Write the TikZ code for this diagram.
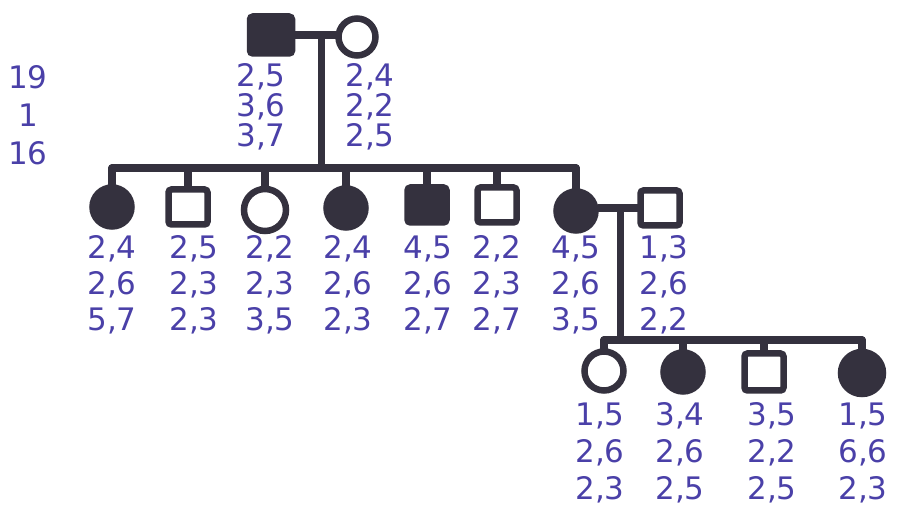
\documentclass[tikz,border=0pt]{standalone}
\usepackage{fontspec}
\setmainfont{DejaVu Sans}
\usetikzlibrary{calc}
\definecolor{pdink}{HTML}{34313E}
\definecolor{pdblue}{HTML}{4A40A8}

\begin{document}
\begin{tikzpicture}[
  x=1pt, y=-1pt,
  male/.style={draw=pdink, line width=6.5pt, rounded corners=3pt,
    minimum width=39pt, minimum height=35pt, inner sep=0pt},
  female/.style={circle, draw=pdink, line width=6.5pt,
    minimum size=39pt, inner sep=0pt},
  aff/.style={fill=pdink},
  link/.style={draw=pdink, line width=7.5pt, line cap=round},
  geno/.style={text=pdblue, align=center, inner sep=0pt,
    font=\fontsize{31}{36}\selectfont}
]
\useasboundingbox (0,0) rectangle (898,510);

% parents
\node[male, aff, minimum width=42pt, minimum height=37pt] (f0) at (271,35) {};
\node[female, minimum size=37pt] (m0) at (357,37) {};
\draw[link] (f0.east) -- (f0.east -| m0.west);
\coordinate (d0) at ($(f0.east)!0.65!(f0.east -| m0.west)$);
\coordinate (s1) at (0,168);
\draw[link] (d0) -- (d0 |- s1);

\node[geno, font=\fontsize{31}{38}\selectfont] (fam) at (28,115) {19\\1\\16};
\node[geno, font=\fontsize{31}{30}\selectfont] (gf0) at (261,107) {2,5\\3,6\\3,7};
\node[geno, font=\fontsize{31}{30}\selectfont] (gm0) at (370,107) {2,4\\2,2\\2,5};

% second generation
\node[female, aff] (c1) at (112,207) {};
\node[male] (c2) at (188,207) {};
\node[female, minimum size=42pt] (c3) at (265,210) {};
\node[female, aff] (c4) at (346,208) {};
\node[male, aff] (c5) at (427,205) {};
\node[male] (c6) at (497,205) {};
\node[female, aff] (c7) at (576,211) {};
\node[male] (sp) at (660,208) {};

\draw[link] (c1.north |- s1) -- (c7.north |- s1);
\draw[link] (c1.north) -- (c1.north |- s1);
\draw[link] (c2.north) -- (c2.north |- s1);
\draw[link] (c3.north) -- (c3.north |- s1);
\draw[link] (c4.north) -- (c4.north |- s1);
\draw[link] (c5.north) -- (c5.north |- s1);
\draw[link] (c6.north) -- (c6.north |- s1);
\draw[link] (c7.north) -- (c7.north |- s1);

\draw[link] (sp.west) -- (sp.west -| c7.east);
\coordinate (d1) at ($(sp.west -| c7.east)!0.56!(sp.west)$);
\coordinate (s2) at (0,340);
\draw[link] (d1) -- (d1 |- s2);

\node[geno] (gc1) at (112,285) {2,4\\2,6\\5,7};
\node[geno] (gc2) at (194,285) {2,5\\2,3\\2,3};
\node[geno] (gc3) at (270,285) {2,2\\2,3\\3,5};
\node[geno] (gc4) at (348,285) {2,4\\2,6\\2,3};
\node[geno] (gc5) at (428,285) {4,5\\2,6\\2,7};
\node[geno] (gc6) at (497,285) {2,2\\2,3\\2,7};
\node[geno] (gc7) at (576,285) {4,5\\2,6\\3,5};
\node[geno] (gsp) at (664,285) {1,3\\2,6\\2,2};

% third generation
\node[female] (g1) at (604,371) {};
\node[female, aff] (g2) at (683,372) {};
\node[male, minimum height=37pt] (g3) at (764,372) {};
\node[female, aff, minimum size=42pt] (g4) at (862,373) {};

\draw[link] (g1.north |- s2) -- (g4.north |- s2);
\draw[link] (g1.north) -- (g1.north |- s2);
\draw[link] (g2.north) -- (g2.north |- s2);
\draw[link] (g3.north) -- (g3.north |- s2);
\draw[link] (g4.north) -- (g4.north |- s2);

\node[geno, font=\fontsize{31}{37}\selectfont] (gg1) at (600,453) {1,5\\2,6\\2,3};
\node[geno, font=\fontsize{31}{37}\selectfont] (gg2) at (680,453) {3,4\\2,6\\2,5};
\node[geno, font=\fontsize{31}{37}\selectfont] (gg3) at (772,453) {3,5\\2,2\\2,5};
\node[geno, font=\fontsize{31}{37}\selectfont] (gg4) at (863,453) {1,5\\6,6\\2,3};

\end{tikzpicture}
\end{document}
